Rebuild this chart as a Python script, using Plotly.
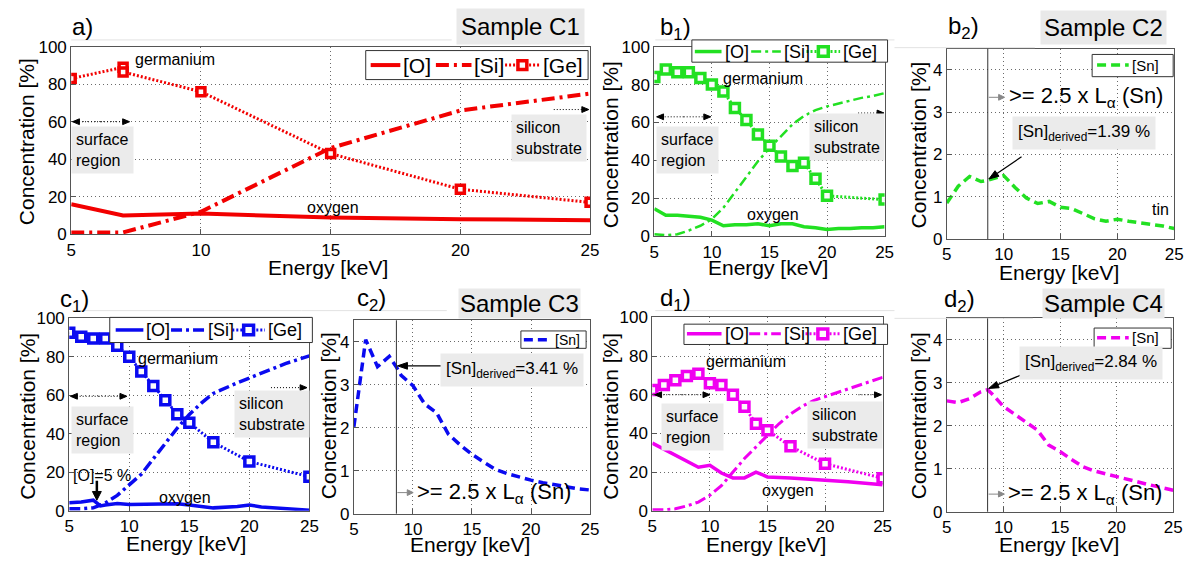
import math
import plotly.graph_objects as go

W, H = 1197, 572
FONT = "Liberation Sans, Arial, sans-serif"

# ---------------- data ----------------
# Sample C1 (a)
A_E_O = [5, 7, 10, 15, 20, 25]
A_O = [16, 10, 11, 9, 8, 7.5]
A_E_SI = [5, 7, 10, 15, 20, 25]
A_SI = [1, 1, 12, 46, 66, 75]
A_E_GE = [5, 7, 7, 10, 15, 20, 25]
A_GE = [83, 89, 86.5, 76, 43, 24, 17]

# Sample C2 (b1, b2)
B_E = list(range(5, 26))
B_O = [14.5, 11, 11, 10.5, 10, 8.5, 5.5, 6, 6, 6.5, 5.5, 6.5, 6.5, 5, 4.5, 3.5, 4, 4, 4.5, 4.5, 5]
B_SI = [1, 0.5, 1, 3, 5.5, 9, 15, 23, 31, 39.5, 46.5, 53, 59, 63.5, 66.5, 68.5, 70, 71.5, 73, 74, 75.5]
B_E_GE = [5, 6, 7, 8, 9, 10, 11, 12, 13, 14, 15, 16, 17, 18, 19, 20, 25]
B_GE = [84, 88, 86.5, 86.5, 83.5, 80, 76.3, 67.6, 61.3, 53.7, 47.7, 42.1, 37.1, 38.7, 30.3, 21.3, 19.3]

# Sample C3 (c1, c2)
C_E_O = [5, 6, 7, 7.6, 8, 9, 10, 12, 14, 15, 17, 19, 20, 21, 25]
C_O = [4.2, 4.5, 5.5, 2.5, 3, 3.8, 3.2, 3.4, 3.7, 3, 1.5, 2.2, 3, 2, 0.3]
C_E_SI = list(range(5, 26))
C_SI = [1, 1, 1.5, 4, 8, 13.5, 19, 27, 35, 43, 50, 56, 61, 64, 66.5, 69, 71.5, 74, 76.5, 78.5, 80.5]
C_E_GE = [5, 6, 7, 8, 9, 10, 11, 12, 13, 14, 15, 17, 20, 25]
C_GE = [92.5, 90.5, 89.5, 89.5, 85.8, 80, 72.4, 64.9, 57.4, 50.2, 45.7, 35.6, 25.6, 17.7]

# Sample C4 (d1, d2)
D_E_O = [5, 6, 7, 8, 9, 10, 11, 12, 13, 14, 15, 17, 20, 22, 25]
D_O = [35, 32, 29, 26, 22.5, 23.5, 19.5, 17, 17, 20, 17.5, 17, 16, 15, 13.5]
D_E_SI = list(range(5, 26))
D_SI = [0.5, 0.5, 1, 2.5, 4.5, 8, 13, 20, 27, 33, 39, 45, 50, 54, 57, 59, 61, 63, 65, 67, 69]
D_E_GE = [5, 6, 7, 8, 9, 10, 11, 12, 13, 14, 15, 17, 20, 25]
D_GE = [62.5, 65, 67.5, 69.7, 70.8, 66, 65, 60, 53.8, 45, 41.7, 33.3, 24.3, 16.8]

# Tin profiles; 8.6 keV = 2.5 x L-alpha(Sn)
SN_E = [5, 6, 7, 8, 8.6, 9, 10, 11, 12, 13, 14, 15, 16, 17, 18, 19, 20, 21, 22, 23, 24, 25]
B_SN = [0.85, 1.25, 1.48, 1.36, 1.39, 1.42, 1.5, 1.22, 0.97, 0.84, 0.89, 0.75, 0.72, 0.6,
        0.48, 0.42, 0.47, 0.42, 0.39, 0.35, 0.31, 0.25]
C_SN = [2.02, 4.05, 3.42, 3.66, 3.41, 3.22, 2.98, 2.55, 2.35, 1.85, 1.6, 1.38, 1.2, 1.03,
        0.93, 0.85, 0.78, 0.72, 0.67, 0.62, 0.58, 0.55]
D_SN = [2.58, 2.54, 2.63, 2.79, 2.84, 2.74, 2.45, 2.27, 2.1, 1.9, 1.55, 1.4, 1.22, 1.05,
        0.95, 0.88, 0.82, 0.74, 0.68, 0.62, 0.56, 0.5]
E_THRESHOLD = 8.6

X_TICKS = [5, 10, 15, 20, 25]
Y_TICKS_MAJOR = [0, 20, 40, 60, 80, 100]
Y_TICKS_SN = [0, 1, 2, 3, 4]

RED, GREEN, BLUE, MAGENTA = "#f20000", "#22e022", "#0a0af0", "#f000f0"

# ---------------- layout helpers ----------------
def fx(px):
    return px / W


def fy(py):
    return 1 - py / H


# plot boxes in pixels: (left, right, top, bottom)
BOXES = {
    1: (67, 592, 39, 233),    # a
    2: (657, 890, 39, 235),   # b1
    3: (953, 1183, 41, 238),  # b2
    4: (65, 308, 320, 519),   # c1
    5: (353, 592, 322, 522),  # c2
    6: (655, 888, 319, 519),  # d1
    7: (953, 1182, 320, 520), # d2
}
SN_PANELS = (3, 5, 7)
X_RANGE = [5, 25]
Y_RANGE_MAJOR = [0, 100]
Y_RANGE_SN = [0, 4.5]

fig = go.Figure()
layout = dict(
    width=W, height=H, margin=dict(l=0, r=0, t=0, b=0),
    paper_bgcolor="white", plot_bgcolor="white",
    font=dict(family=FONT, color="black", size=17),
    showlegend=False,
)

axis_common = dict(
    showline=True, linecolor="#555", linewidth=1, mirror=True,
    ticks="inside", ticklen=5, tickcolor="#555",
    showgrid=True, gridcolor="#6a6a6a", griddash="1px,3px", gridwidth=1,
    zeroline=False, tickfont=dict(size=17, family=FONT, color="black"),
)

for k, (l, r, t, b) in BOXES.items():
    s = "" if k == 1 else str(k)
    sn = k in SN_PANELS
    layout["xaxis" + s] = dict(axis_common, domain=[fx(l), fx(r)], anchor="y" + s,
                               range=X_RANGE, tickvals=X_TICKS)
    layout["yaxis" + s] = dict(axis_common, domain=[fy(b), fy(t)], anchor="x" + s,
                               range=Y_RANGE_SN if sn else Y_RANGE_MAJOR,
                               tickvals=Y_TICKS_SN if sn else Y_TICKS_MAJOR)


def ax_ref(k):
    s = "" if k == 1 else str(k)
    return "x" + s, "y" + s


def px_scale(k):
    """data units per pixel along x and y for panel k"""
    l, r, t, b = BOXES[k]
    yr = Y_RANGE_SN if k in SN_PANELS else Y_RANGE_MAJOR
    return (X_RANGE[1] - X_RANGE[0]) / (r - l), (yr[1] - yr[0]) / (b - t)


# line styles per series, shared by traces and legend keys
def styles(color, w_o, w_si, w_ge, msize, dash_si):
    return {
        "[O]": dict(line=dict(color=color, width=w_o)),
        "[Si]": dict(line=dict(color=color, width=w_si, dash=dash_si)),
        "[Ge]": dict(line=dict(color=color, width=w_ge, dash="2px,2px"),
                     marker=dict(symbol="square", size=msize, color="#fbfbfb",
                                 line=dict(color=color, width=3.5))),
    }


STY = {
    1: styles(RED, 4, 4, 3, 8, "13px,5px,3px,5px"),
    2: styles(GREEN, 3.5, 2.5, 3, 9, "10px,4px,3px,4px"),
    4: styles(BLUE, 3.5, 3.5, 3, 9, "11px,4px,3px,4px"),
    6: styles(MAGENTA, 3.5, 3, 3, 9, "11px,4px,3px,4px"),
}
for k in SN_PANELS:
    color = {3: GREEN, 5: BLUE, 7: MAGENTA}[k]
    STY[k] = {"[Sn]": dict(line=dict(color=color, width=3.5, dash="9px,5px"))}


def add_composition(k, eo, o, esi, si, ege, ge):
    xr, yr = ax_ref(k)
    st = STY[k]
    fig.add_trace(go.Scatter(x=eo, y=o, mode="lines", name="[O]", xaxis=xr, yaxis=yr, **st["[O]"]))
    fig.add_trace(go.Scatter(x=esi, y=si, mode="lines", name="[Si]", xaxis=xr, yaxis=yr, **st["[Si]"]))
    fig.add_trace(go.Scatter(x=ege, y=ge, mode="lines+markers", name="[Ge]", xaxis=xr, yaxis=yr,
                             **st["[Ge]"]))


def add_tin(k, values):
    xr, yr = ax_ref(k)
    fig.add_trace(go.Scatter(x=SN_E, y=values, mode="lines", name="[Sn]", xaxis=xr, yaxis=yr,
                             **STY[k]["[Sn]"]))


add_composition(1, A_E_O, A_O, A_E_SI, A_SI, A_E_GE, A_GE)
add_composition(2, B_E, B_O, B_E, B_SI, B_E_GE, B_GE)
add_tin(3, B_SN)
add_composition(4, C_E_O, C_O, C_E_SI, C_SI, C_E_GE, C_GE)
add_tin(5, C_SN)
add_composition(6, D_E_O, D_O, D_E_SI, D_SI, D_E_GE, D_GE)
add_tin(7, D_SN)

annotations = []
shapes = []

# ---------------- legends (boxed keys, MATLAB style) ----------------
# box (l, r, t, b), key row centre, font size, entries (key start, key end, label)
LEGENDS = {
    1: ((365, 590, 43, 73), 58, 21, [(370, 400, "[O]"), (436, 472, "[Si]"), (506, 541, "[Ge]")]),
    2: ((695, 893, 32, 55), 44, 18, [(698, 725, "[O]"), (755, 785, "[Si]"), (811, 845, "[Ge]")]),
    3: ((1100, 1182, 47, 70), 58, 15, [(1105, 1137, "[Sn]")]),
    4: ((106, 311, 319, 345), 332, 18, [(112, 140, "[O]"), (168, 202, "[Si]"), (230, 263, "[Ge]")]),
    5: ((522, 588, 333, 351), 342, 14, [(525, 553, "[Sn]")]),
    6: ((687, 893, 326, 347), 336, 18, [(690, 725, "[O]"), (753, 785, "[Si]"), (810, 845, "[Ge]")]),
    7: ((1102, 1180, 330, 351), 340, 15, [(1105, 1137, "[Sn]")]),
}
for k, ((l, r, t, b), yc, fs, entries) in LEGENDS.items():
    shapes.append(dict(type="rect", xref="paper", yref="paper", x0=fx(l), x1=fx(r), y0=fy(b), y1=fy(t),
                       fillcolor="white", line=dict(color="#333", width=1)))
    for x0, x1, label in entries:
        st = STY[k][label]
        shapes.append(dict(type="line", xref="paper", yref="paper", x0=fx(x0), x1=fx(x1),
                           y0=fy(yc), y1=fy(yc), line=st["line"]))
        if "marker" in st:
            m = st["marker"]
            half = (m["size"] + 1) / 2
            xm = (x0 + x1) / 2
            shapes.append(dict(type="rect", xref="paper", yref="paper",
                               x0=fx(xm - half), x1=fx(xm + half), y0=fy(yc + half), y1=fy(yc - half),
                               fillcolor=m["color"], line=dict(color=m["line"]["color"], width=3.5)))
        annotations.append(dict(text=label, x=fx(x1 + 1), y=fy(yc), xref="paper", yref="paper",
                                showarrow=False, xanchor="left", yanchor="middle",
                                font=dict(size=fs, family=FONT, color="black")))


# ---------------- text and arrows ----------------
def paper_text(text, px, py, size, bg=None, pad=3):
    a = dict(text=text, x=fx(px), y=fy(py), xref="paper", yref="paper", showarrow=False,
             font=dict(size=size, family=FONT, color="black"), xanchor="center", yanchor="middle")
    if bg:
        a.update(bgcolor=bg, borderpad=pad)
    annotations.append(a)


def data_text(k, text, x, y, size=16, bg=None, align="center", xanchor="center", pad=4):
    xr, yr = ax_ref(k)
    a = dict(text=text, x=x, y=y, xref=xr, yref=yr, showarrow=False, align=align,
             font=dict(size=size, family=FONT, color="black"), xanchor=xanchor, yanchor="middle")
    if bg:
        a.update(bgcolor=bg, borderpad=pad)
    annotations.append(a)


def arrow_shapes(k, hx, hy, tdx, tdy, width=1.0, head_len=8, head_w=7, dash=None, color="black"):
    """arrow whose head sits at data point (hx, hy); tail offset (tdx, tdy) in pixels"""
    xr, yr = ax_ref(k)
    sx, sy = px_scale(k)

    def pt(dx, dy):
        return hx + dx * sx, hy - dy * sy

    n = math.hypot(tdx, tdy)
    ux, uy = -tdx / n, -tdy / n          # unit vector tail -> head (pixels)
    bx, by = -ux * head_len, -uy * head_len
    px_, py_ = -uy * head_w / 2, ux * head_w / 2
    tx, ty = pt(tdx, tdy)
    ex, ey = pt(bx, by)
    line = dict(color=color, width=width)
    if dash:
        line["dash"] = dash
    shapes.append(dict(type="line", xref=xr, yref=yr, x0=tx, y0=ty, x1=ex, y1=ey, line=line))
    p1 = pt(bx + px_, by + py_)
    p2 = pt(bx - px_, by - py_)
    path = "M %f,%f L %f,%f L %f,%f Z" % (hx, hy, p1[0], p1[1], p2[0], p2[1])
    shapes.append(dict(type="path", xref=xr, yref=yr, path=path, fillcolor=color,
                       line=dict(color=color, width=1)))


def dotted_arrow(k, x0, x1, y, both=True):
    sx, _ = px_scale(k)
    length = (x1 - x0) / sx
    if both:
        arrow_shapes(k, x1, y, -length / 2, 0, head_len=7, head_w=6, dash="1px,2px")
        arrow_shapes(k, x0, y, length / 2, 0, head_len=7, head_w=6, dash="1px,2px")
    else:
        arrow_shapes(k, x1, y, -length, 0, head_len=7, head_w=6, dash="1px,2px")


BOXGREY = "#ebebeb"

# panel labels and sample names
paper_text("a)", 78, 18, 24)
paper_text("b<sub>1</sub>)", 678, 20, 24)
paper_text("b<sub>2</sub>)", 970, 19, 24)
paper_text("c<sub>1</sub>)", 70, 302, 24)
paper_text("c<sub>2</sub>)", 371, 300, 24)
paper_text("d<sub>1</sub>)", 678, 300, 24)
paper_text("d<sub>2</sub>)", 966, 301, 24)
paper_text("Sample C1", 522, 18, 24, bg="#e9e9e9", pad=4)
paper_text("Sample C2", 1112, 19, 24, bg="#e9e9e9", pad=3)
paper_text("Sample C3", 521, 305, 24, bg="#e9e9e9", pad=1)
paper_text("Sample C4", 1111, 305, 24, bg="#e9e9e9", pad=1)

# faint rules above the panels
for x0, x1, yy in [(67, 452, 32), (658, 900, 32), (900, 1042, 40), (68, 300, 312),
                   (300, 447, 312), (658, 900, 312), (900, 1040, 320)]:
    shapes.insert(0, dict(type="line", xref="paper", yref="paper", x0=fx(x0), x1=fx(x1),
                          y0=fy(yy), y1=fy(yy), line=dict(color="#e2e2e2", width=1)))

# axis titles
AX_TITLES = {1: ((22, 137), (327, 267)), 2: ((613, 140), (772, 267)), 3: ((924, 141), (1066, 273)),
             4: ((22, 421), (183, 553)), 5: ((327, 421), (470, 554)), 6: ((612, 421), (770, 554)),
             7: ((924, 421), (1066, 554))}
for k, ((yx, yy), (xx, xy)) in AX_TITLES.items():
    annotations.append(dict(text="Concentration [%]", x=fx(yx), y=fy(yy), xref="paper", yref="paper",
                            textangle=-90, showarrow=False, xanchor="center", yanchor="middle",
                            font=dict(size=21, family=FONT, color="black")))
    annotations.append(dict(text="Energy [keV]", x=fx(xx), y=fy(xy), xref="paper", yref="paper",
                            showarrow=False, xanchor="center", yanchor="middle",
                            font=dict(size=21, family=FONT, color="black")))

# composition panel notes
data_text(1, "germanium", 9.0, 93.3)
data_text(1, "oxygen", 15.1, 14.4)
data_text(1, "surface<br>region", 6.2, 44.8, bg=BOXGREY, align="left")
data_text(1, "silicon<br>substrate", 23.4, 51.5, bg=BOXGREY, align="left")
dotted_arrow(1, 5.05, 7.25, 60)
dotted_arrow(1, 23.6, 24.95, 66.5, both=False)

data_text(2, "germanium", 14.4, 83.2)
data_text(2, "oxygen", 15.3, 11.2)
data_text(2, "surface<br>region", 7.9, 45.4, bg=BOXGREY, align="left")
data_text(2, "silicon<br>substrate", 21.7, 52.6, bg=BOXGREY, align="left")
dotted_arrow(2, 5.2, 9.9, 63)
dotted_arrow(2, 22.7, 24.95, 65, both=False)

data_text(4, "germanium", 14.05, 78.9)
data_text(4, "oxygen", 14.6, 7.0)
data_text(4, "surface<br>region", 7.75, 42.2, bg=BOXGREY, align="left")
data_text(4, "silicon<br>substrate", 21.9, 50.3, bg=BOXGREY, align="left")
dotted_arrow(4, 5.1, 9.8, 59.5)
dotted_arrow(4, 21.8, 24.8, 64, both=False)
data_text(4, "[O]=5 %", 7.7, 18.5)
arrow_shapes(4, 7.3, 5.5, 0, -20, width=2.5, head_len=9, head_w=9)

data_text(6, "germanium", 13.1, 77)
data_text(6, "oxygen", 16.8, 10.5)
data_text(6, "surface<br>region", 8.5, 43.5, bg=BOXGREY, align="left")
data_text(6, "silicon<br>substrate", 21.7, 44.5, bg=BOXGREY, align="left")
dotted_arrow(6, 5.2, 10, 60)
dotted_arrow(6, 22.9, 24.9, 60, both=False)

# tin panels: threshold line, derived value, notes
i_thr = SN_E.index(E_THRESHOLD)
TIN = {3: (B_SN, (17.1, 2.5), (33, -23), 3.35),
       5: (C_SN, (18.4, 3.34), (46, 0), 0.49),
       7: (D_SN, (17.75, 3.47), (33, -14), 0.41)}
for k, (vals, (bx, by), (tdx, tdy), ly) in TIN.items():
    xr, yr = ax_ref(k)
    sx, _ = px_scale(k)
    shapes.append(dict(type="line", xref=xr, yref=yr + " domain", x0=E_THRESHOLD, x1=E_THRESHOLD,
                       y0=0, y1=1, line=dict(color="#333", width=1)))
    derived = vals[i_thr]
    data_text(k, "[Sn]<sub>derived</sub>=%.2f %%" % derived, bx, by, size=17, bg=BOXGREY, pad=5)
    arrow_shapes(k, E_THRESHOLD + 0.1, derived + 0.03, tdx, tdy, width=1.2, head_len=10, head_w=7)
    # threshold note: thin grey pointer followed by the label
    arrow_shapes(k, E_THRESHOLD + 17 * sx, ly, -16, 0, width=1, head_len=6, head_w=6, color="#888")
    data_text(k, ">= 2.5 x L<sub>α</sub> (Sn)", E_THRESHOLD + 19 * sx, ly, size=22, xanchor="left")
data_text(3, "tin", 23.8, 0.71)

layout["annotations"] = annotations
layout["shapes"] = shapes
fig.update_layout(**layout)
fig.write_html("out.html")
